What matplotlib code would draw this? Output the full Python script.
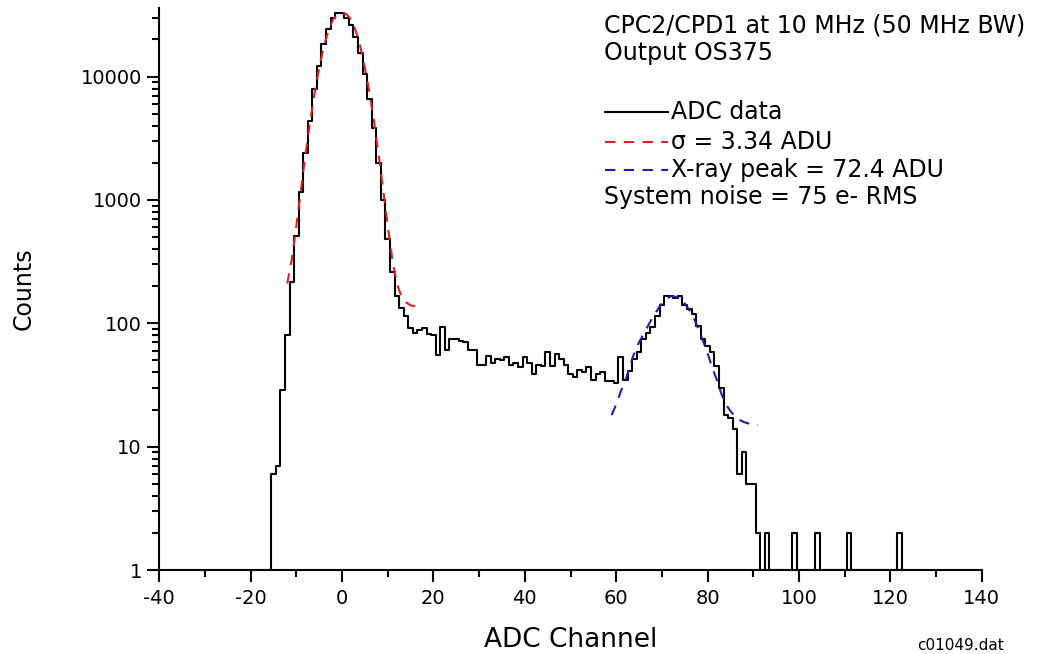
import matplotlib
matplotlib.use('Agg')
import matplotlib.pyplot as plt
from matplotlib.lines import Line2D
from matplotlib.ticker import LogLocator, MultipleLocator, NullFormatter

plt.rcParams['font.family'] = 'DejaVu Sans'
plt.rcParams['axes.unicode_minus'] = False

# ADC histogram, one bin per channel
channels = list(range(-16, 124))
counts = [
    1, 6, 7, 29, 80, 215, 510, 1160, 2400, 4400, 8000, 12300, 18500, 24500, 29600, 33000,
    33000, 30000, 26000, 21000, 15500, 10500, 6600, 3800, 2000, 1000,
    480, 260, 165, 134, 115, 92, 84, 88, 92, 82,
    80, 55, 94, 61, 75, 74, 72, 70, 61, 61,
    46, 46, 54, 48, 51, 50, 53, 46, 48, 44,
    53, 48, 39, 46, 45, 59, 45, 56, 51, 46,
    39, 37, 42, 40, 44, 35, 39, 40, 34, 34,
    33, 53, 35, 41, 51, 59, 74, 84, 94, 114,
    142, 168, 168, 160, 168, 142, 130, 120, 95, 75,
    66, 58, 45, 30, 18, 17, 14, 6, 9, 5,
    5, 2, 1, 2, 1, 1, 1, 1, 1, 2,
    1, 1, 1, 1, 2, 1, 1, 1, 1, 1,
    1, 2, 1, 1, 1, 1, 1, 1, 1, 1,
    1, 1, 2, 1,
]

# noise peak fit (red)
noise_fit_x = list(range(-12, 18))
noise_fit_y = [210, 330, 620, 1200, 2350, 4300, 7400, 11800, 17500, 23500, 29000, 32000,
               33000, 32000, 29000, 23500, 17500, 11800, 7400, 4300, 2350, 1200, 620, 330,
               210, 165, 148, 140, 137, 136]

# X-ray peak fit (blue)
xray_fit_x = list(range(59, 92))
xray_fit_y = [18, 22, 28, 34, 45, 58, 70, 82, 96, 112, 128, 146, 158, 166, 164, 158, 145,
              128, 110, 90, 72, 57, 44, 35, 27, 22, 19.5, 17.5, 16.5, 15.8, 15.4, 15.1, 15]

W, H = 1051, 654
fig = plt.figure(figsize=(W / 100, H / 100), dpi=100)
ax = fig.add_axes([159.3 / W, 1 - 570 / H, 822.4 / W, 562 / H])

red = '#e02020'
blue = '#1f1fb0'
ax.step(channels, counts, where='mid', color='black', lw=1.5, zorder=3)
ax.plot(noise_fit_x, noise_fit_y, color=red, lw=1.5, dashes=(5, 4), zorder=4)
ax.plot(xray_fit_x, xray_fit_y, color=blue, lw=1.5, dashes=(5, 4), zorder=4)

ax.set_yscale('log')
ax.set_xlim(-40, 140)
ax.set_ylim(1, 36000)
ax.set_xticks(range(-40, 141, 20))
ax.xaxis.set_minor_locator(MultipleLocator(10))
ax.set_yticks([1, 10, 100, 1000, 10000])
ax.set_yticklabels(['1', '10', '100', '1000', '10000'])
ax.yaxis.set_minor_locator(LogLocator(base=10, subs=range(2, 10), numticks=20))
ax.yaxis.set_minor_formatter(NullFormatter())

for s in ['top', 'right']:
    ax.spines[s].set_visible(False)
for s in ['left', 'bottom']:
    ax.spines[s].set_linewidth(1.5)
ax.tick_params(which='major', direction='out', length=8.5, width=1.5, labelsize=14)
ax.tick_params(axis='x', which='major', pad=5)
ax.tick_params(axis='y', which='major', pad=4)
ax.tick_params(which='minor', direction='out', length=5, width=1.5)

ax.set_xlabel('ADC Channel', fontsize=19)
ax.xaxis.set_label_coords(0.5, -(640 - 570) / 562)
ax.xaxis.label.set_va('center')
ax.set_ylabel('Counts', fontsize=17)
ax.yaxis.set_label_coords((23.3 - 159.3) / 822.4, 0.5)
ax.yaxis.label.set_va('center')


def fx(px):
    return px / W


def fy(py):
    return 1 - py / H


fs = 17
fig.text(fx(604), fy(25), 'CPC2/CPD1 at 10 MHz (50 MHz BW)', fontsize=fs, va='center')
fig.text(fx(604), fy(53), 'Output OS375', fontsize=fs, va='center')

entries = [('ADC data', 'black', None, 111.7),
           ('\u03c3 = 3.34 ADU', red, (5, 4), 141.7),
           ('X-ray peak = 72.4 ADU', blue, (5, 4), 170)]
for label, col, dash, py in entries:
    ln = Line2D([fx(605), fx(668)], [fy(py), fy(py)], transform=fig.transFigure,
                color=col, lw=1.5)
    if dash:
        ln.set_dashes(dash)
    fig.add_artist(ln)
    fig.text(fx(671), fy(py), label, fontsize=fs, va='center')
fig.text(fx(604), fy(196.7), 'System noise = 75 e- RMS', fontsize=fs, va='center')

fig.text(fx(917), fy(645), 'c01049.dat', fontsize=11, va='center')

fig.savefig('out.png', dpi=100)
